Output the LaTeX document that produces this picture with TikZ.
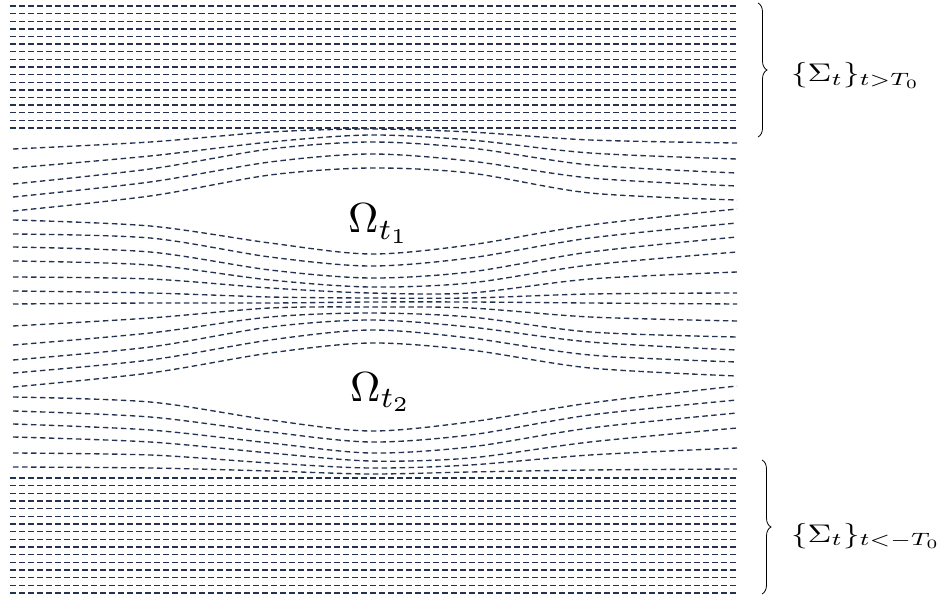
\documentclass[tikz,border=0pt]{standalone}
\usepackage{graphicx}
\usetikzlibrary{decorations.pathreplacing}
\definecolor{fol}{RGB}{36,50,80}
\newcommand\leafline[7]{\draw[leaf] plot[smooth] coordinates {(13,#1) (150,#2) (270,#3) (370,#4) (470,#5) (590,#6) (737,#7)};}
\begin{document}
\begin{tikzpicture}[x=1pt,y=-1pt,
  leaf/.style={draw=fol, line width=1.35pt, dash pattern=on 5.5pt off 3.5pt},
  bracemark/.style={draw=black, line width=0.8pt, decorate, decoration={brace, amplitude=9pt}},
  omegalabel/.style={inner sep=0pt, anchor=base west},
  sigmalabel/.style={inner sep=0pt, anchor=base west}]
\useasboundingbox (0,0) rectangle (938,599);
% flat bands
\foreach \i in {0,...,16} \draw[leaf] (10,{6+7.625*\i}) -- (738,{6+7.625*\i});
\foreach \i in {0,...,15} \draw[leaf] (10,{478+7.667*\i}) -- (738,{478+7.667*\i});
% group above Omega_1
\leafline{149}{142}{132}{129}{132}{140}{143}
\leafline{168}{156}{142}{135}{140}{153}{159}
\leafline{184}{169}{149}{142}{148}{165}{173}
\leafline{197}{182}{162}{154}{161}{178}{186}
\leafline{211}{196}{175}{168}{173}{193}{200}
% middle group
\leafline{220}{226}{243}{254}{245}{225}{209}
\leafline{234}{238}{257}{266}{258}{238}{223}
\leafline{247}{252}{270}{278}{272}{252}{237}
\leafline{261}{265}{280}{287}{283}{265}{252}
\leafline{277}{279}{288}{293}{293}{279}{272}
\leafline{291}{293}{297}{298}{298}{294}{293}
\leafline{304}{303}{303}{302}{302}{303}{304}
\leafline{326}{318}{308}{307}{308}{317}{321}
\leafline{345}{333}{317}{313}{317}{332}{337}
\leafline{360}{347}{327}{320}{327}{342}{350}
\leafline{373}{360}{340}{330}{338}{355}{362}
\leafline{387}{373}{353}{343}{350}{368}{376}
% group below Omega_2
\leafline{397}{402}{420}{431}{422}{403}{386}
\leafline{411}{417}{432}{442}{435}{415}{400}
\leafline{424}{430}{443}{453}{447}{428}{413}
\leafline{437}{442}{453}{461}{458}{442}{428}
\leafline{453}{455}{463}{468}{465}{455}{448}
\leafline{467}{468}{471}{474}{472}{470}{469}
% labels
\node[omegalabel] (om1) at (348,233) {\scalebox{4.2}{$\Omega_{t_1}$}};
\node[omegalabel] (om2) at (350,401) {\scalebox{4.2}{$\Omega_{t_2}$}};
\coordinate (bt1) at (758,3);
\coordinate (bt2) at (758,137);
\coordinate (bb1) at (762,460);
\coordinate (bb2) at (762,594);
\draw[bracemark] (bt1) -- (bt2);
\draw[bracemark] (bb1) -- (bb2);
\node[sigmalabel] (sig1) at (791,82) {\scalebox{3.3}[2.55]{$\{\Sigma_t\}_{t>T_0}$}};
\node[sigmalabel] (sig2) at (791,542) {\scalebox{3.3}[2.55]{$\{\Sigma_t\}_{t<-T_0}$}};
\end{tikzpicture}
\end{document}
